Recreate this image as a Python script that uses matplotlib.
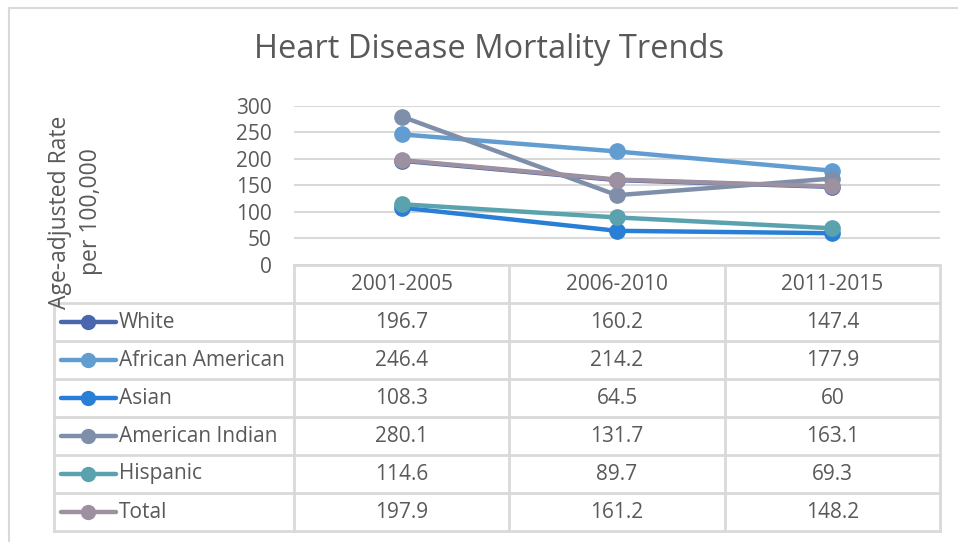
import numpy as np
import matplotlib.pyplot as plt
from matplotlib.lines import Line2D
from matplotlib.patches import Rectangle

plt.rcParams['font.family'] = ['Open Sans', 'DejaVu Sans']

periods = ["2001-2005", "2006-2010", "2011-2015"]
groups = ["White", "African American", "Asian", "American Indian", "Hispanic", "Total"]
white = [196.7, 160.2, 147.4]
african_american = [246.4, 214.2, 177.9]
asian = [108.3, 64.5, 60]
american_indian = [280.1, 131.7, 163.1]
hispanic = [114.6, 89.7, 69.3]
total = [197.9, 161.2, 148.2]
series = [white, african_american, asian, american_indian, hispanic, total]
colors = ["#4A66AC", "#629DD1", "#297FD5", "#7F8FA9", "#5AA2AE", "#9D90A0"]

txt = "#595959"
grid = "#D9D9D9"
W, H = 958, 542
fs = 15

fig = plt.figure(figsize=(W / 100, H / 100), dpi=100)

# outer chart frame
fig.patches.append(Rectangle((9 / W, -0.05), 1.1, 1 - 8 / H + 0.05, transform=fig.transFigure,
                             fill=False, edgecolor=grid, lw=1.5))

fig.text(489 / W, 1 - 50 / H, "Heart Disease Mortality Trends", ha="center", va="center",
         fontsize=23.5, color=txt)

# plot area
ax = fig.add_axes([294 / W, 1 - 265 / H, 646 / W, 159 / H])
x = np.arange(len(periods))
for vals, c in zip(series, colors):
    ax.plot(x, vals, color=c, lw=3.2, marker="o", ms=11, solid_capstyle="round")
ax.set_xlim(-0.5, 2.5)
ax.set_ylim(0, 300)
ax.set_yticks(range(0, 301, 50))
ax.yaxis.grid(True, color=grid, lw=1.5)
ax.set_axisbelow(True)
ax.set_xticks([])
for s in ax.spines.values():
    s.set_visible(False)
ax.tick_params(axis="y", length=0, labelsize=fs, labelcolor=txt, pad=16)

fig.text(60 / W, 1 - 212 / H, "Age-adjusted Rate", rotation=90, ha="center", va="center",
         fontsize=16.5, color=txt)
fig.text(91 / W, 1 - 212 / H, "per 100,000", rotation=90, ha="center", va="center",
         fontsize=16.5, color=txt)

# data table below
colw = 646 / 3
left_col = (54 - 294) / colw - 0.5
tax = fig.add_axes([54 / W, 1 - 531 / H, 886 / W, 266 / H])
tax.set_xlim(left_col, 2.5)
tax.set_ylim(7, 0)
tax.axis("off")
nrows = len(groups) + 1
kw = dict(color=grid, lw=2, clip_on=False)
tax.plot([-0.5, 2.5], [0, 0], **kw)
for r in range(1, nrows + 1):
    tax.plot([left_col, 2.5], [r, r], **kw)
for cx in [-0.5, 0.5, 1.5, 2.5]:
    tax.plot([cx, cx], [0, nrows], **kw)
tax.plot([left_col, left_col], [1, nrows], **kw)

for j, p in enumerate(periods):
    tax.text(j, 0.5, p, ha="center", va="center", fontsize=fs, color=txt)
for i, (g, vals, c) in enumerate(zip(groups, series, colors)):
    yc = i + 1.5
    for j, v in enumerate(vals):
        tax.text(j, yc, f"{v:g}", ha="center", va="center", fontsize=fs, color=txt)
    x0 = left_col + 7 / colw
    x1 = left_col + 62 / colw
    tax.add_line(Line2D([x0, x1], [yc, yc], color=c, lw=3.2, solid_capstyle="round"))
    tax.plot([(x0 + x1) / 2], [yc], "o", color=c, ms=10)
    tax.text(x1 + 3 / colw, yc, g, ha="left", va="center", fontsize=fs, color=txt)

fig.savefig("out.png", dpi=100)
